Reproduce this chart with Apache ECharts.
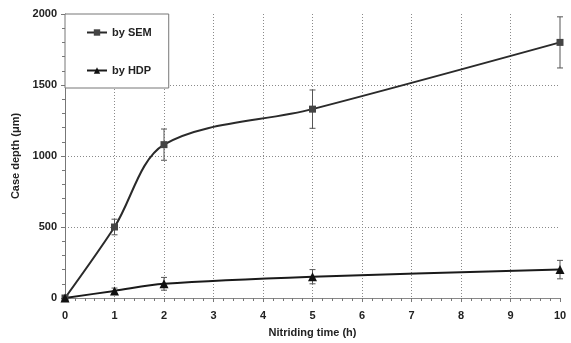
<!DOCTYPE html>
<html lang="en" style="height: 100%">
<head>
  <meta charset="utf-8">
</head>
<body style="height: 100%; margin: 0; background: #fff">
  <div id="container" style="width: 571px; height: 343px"></div>

<script type="text/javascript" src="https://cdn.jsdelivr.net/npm/echarts@6/dist/echarts.min.js"></script>

<script type="text/javascript">
var dom = document.getElementById('container');
var myChart = echarts.init(dom, null, { renderer: 'canvas' });

// nitriding time (h)
var times = [0, 1, 2, 5, 10];
// case depth by SEM (um) and its error
var semDepth = [0, 500, 1080, 1330, 1800];
var semErr = [0, 55, 110, 135, 180];
// case depth by HDP (um) and its error
var hdpDepth = [0, 50, 100, 150, 200];
var hdpErr = [0, 20, 45, 50, 65];

var font = 'Liberation Sans, Arial, sans-serif';
var dotted = '#8a8a8a';

function pairs(xs, ys) {
  return xs.map(function (x, i) { return [x, ys[i]]; });
}
function errData(xs, ys, es) {
  return xs.map(function (x, i) { return [x, ys[i] - es[i], ys[i] + es[i]]; })
    .filter(function (d) { return d[2] > d[1]; });
}

function errorBar(params, api) {
  var lo = api.coord([api.value(0), api.value(1)]);
  var hi = api.coord([api.value(0), api.value(2)]);
  var w = 3;
  var st = { stroke: '#555', lineWidth: 1 };
  return {
    type: 'group',
    children: [
      { type: 'line', shape: { x1: lo[0], y1: lo[1], x2: hi[0], y2: hi[1] }, style: st },
      { type: 'line', shape: { x1: lo[0] - w, y1: lo[1], x2: lo[0] + w, y2: lo[1] }, style: st },
      { type: 'line', shape: { x1: hi[0] - w, y1: hi[1], x2: hi[0] + w, y2: hi[1] }, style: st }
    ]
  };
}

var option = {
  animation: false,
  backgroundColor: '#fff',
  textStyle: { fontFamily: font },
  grid: { left: 65, right: 11, top: 14, bottom: 40 },
  legend: {
    data: ['by SEM', 'by HDP'],
    orient: 'vertical',
    left: 65,
    top: 14,
    padding: [13, 17, 12, 21],
    itemGap: 27,
    itemWidth: 20,
    itemHeight: 8,
    backgroundColor: '#fff',
    borderColor: '#777',
    borderWidth: 1,
    borderRadius: 0,
    textStyle: { fontFamily: font, fontWeight: 'bold', fontSize: 11, color: '#222' }
  },
  xAxis: [
    {
      type: 'value',
      min: 0,
      max: 10,
      interval: 1,
      name: 'Nitriding time (h)',
      nameLocation: 'middle',
      nameGap: 29,
      nameTextStyle: { fontFamily: font, fontWeight: 'bold', fontSize: 11, color: '#222' },
      axisLine: { show: true, onZero: false, lineStyle: { color: '#777', width: 1 } },
      axisTick: { show: true, length: 4, lineStyle: { color: '#777' } },
      minorTick: { show: true, splitNumber: 5, length: 3, lineStyle: { color: '#777' } },
      axisLabel: { margin: 12, fontFamily: font, fontWeight: 'bold', fontSize: 11, color: '#222' },
      splitLine: {
        show: true,
        lineStyle: {
          type: [1, 2],
          width: 1,
          color: ['transparent', dotted, dotted, dotted, dotted, dotted, dotted, dotted, dotted, dotted]
        }
      }
    },
    {
      type: 'value',
      position: 'top',
      min: 0,
      max: 10,
      interval: 1,
      axisLine: { show: true, lineStyle: { color: '#888', width: 1 } },
      axisTick: { show: false },
      axisLabel: { show: false },
      splitLine: { show: false }
    }
  ],
  yAxis: {
    type: 'value',
    min: 0,
    max: 2000,
    interval: 500,
    name: 'Case depth (\u03bcm)',
    nameLocation: 'middle',
    nameGap: 40,
    nameTextStyle: { fontFamily: font, fontWeight: 'bold', fontSize: 11, color: '#222' },
    axisLine: { show: true, lineStyle: { color: '#777', width: 1 } },
    axisTick: { show: true, length: 4, lineStyle: { color: '#777' } },
    minorTick: { show: true, splitNumber: 5, length: 3, lineStyle: { color: '#777' } },
    axisLabel: {
      margin: 8, fontFamily: font, fontWeight: 'bold', fontSize: 11, color: '#222',
      formatter: function (v) { return String(v); }
    },
    splitLine: {
      show: true,
      lineStyle: {
        type: [1, 2],
        width: 1,
        color: ['transparent', dotted, dotted, dotted]
      }
    }
  },
  series: [
    {
      name: 'by SEM',
      type: 'line',
      smooth: 0.32,
      data: pairs(times, semDepth),
      symbol: 'rect',
      symbolSize: 7,
      lineStyle: { color: '#2a2a2a', width: 2 },
      itemStyle: { color: '#444' },
      z: 3
    },
    {
      name: 'by HDP',
      type: 'line',
      smooth: 0.32,
      data: pairs(times, hdpDepth),
      symbol: 'triangle',
      symbolSize: 9,
      lineStyle: { color: '#1a1a1a', width: 2 },
      itemStyle: { color: '#111' },
      z: 3
    },
    {
      type: 'custom',
      renderItem: errorBar,
      data: errData(times, semDepth, semErr),
      encode: { x: 0, y: [1, 2] },
      z: 2
    },
    {
      type: 'custom',
      renderItem: errorBar,
      data: errData(times, hdpDepth, hdpErr),
      encode: { x: 0, y: [1, 2] },
      z: 2
    }
  ]
};

myChart.setOption(option);
window.addEventListener('resize', myChart.resize);
</script>
</body>
</html>
